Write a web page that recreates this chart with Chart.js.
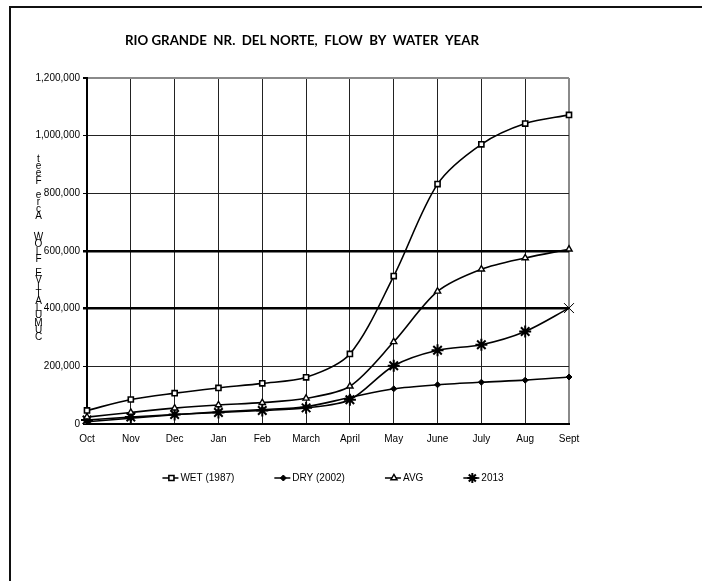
<!DOCTYPE html>
<html>
<head>
<meta charset="utf-8">
<script src="https://cdn.jsdelivr.net/npm/chart.js@4/dist/chart.umd.min.js"></script>
<style>
  html, body { margin: 0; padding: 0; background: #fff; }
  #wrap { position: relative; width: 702px; height: 581px; }
</style>
</head>
<body>
<div id="wrap"><canvas id="flow"></canvas></div>
<script>
// Cumulative flow (acre-feet) through the water year, Rio Grande near Del Norte
const months = ['Oct', 'Nov', 'Dec', 'Jan', 'Feb', 'March', 'April', 'May', 'June', 'July', 'Aug', 'Sept'];
const wet1987 = [47000, 85000, 107000, 125000, 141000, 162000, 243000, 513000, 832000, 970000, 1042000, 1072000];
const dry2002 = [8000, 20000, 32000, 42000, 50000, 60000, 92000, 122000, 136000, 145000, 152000, 163000];
const avgYear = [24000, 40000, 55000, 66000, 74000, 89000, 131000, 285000, 460000, 537000, 576000, 606000];
const year2013 = [14000, 24000, 33000, 40000, 47000, 56000, 84000, 202000, 256000, 275000, 321000, 402000];
const seriesNames = ['WET (1987)', 'DRY (2002)', 'AVG', '2013'];
const yMin = 0, yMax = 1200000, yStep = 200000;
const heavyLines = [400000, 600000];

const titleText = 'RIO GRANDE  NR.  DEL NORTE,  FLOW  BY  WATER  YEAR';
const yAxisText = 'CUMULATIVE FLOW, Acre Feet';

const baseFont = '"Liberation Sans", Arial, sans-serif';

// marker look for each series (legend uses the same values)
const markers = [
  { style: 'rect', radius: 3.6, fill: '#fff', width: 1.6 },
  { style: 'rectRot', radius: 3, fill: '#000', width: 1 },
  { style: 'triangle', radius: 3.6, fill: '#fff', width: 1.4 },
  { style: 'star', radius: 6, fill: '#000', width: 2 }
];

// page frame, title, stacked axis caption and the line-style legend
const decorations = {
  id: 'decorations',
  beforeDraw(chart) {
    const ctx = chart.ctx;
    ctx.save();
    ctx.fillStyle = '#fff';
    ctx.fillRect(0, 0, chart.width, chart.height);
    ctx.fillStyle = '#111';
    ctx.fillRect(9, 6, chart.width, 2);
    ctx.fillRect(9, 6, 2, chart.height);
    ctx.restore();
  },
  afterDraw(chart) {
    const ctx = chart.ctx;
    ctx.save();
    // title
    ctx.fillStyle = '#000';
    ctx.font = 'bold 13.3px Lato, "Liberation Sans", sans-serif';
    ctx.textAlign = 'center';
    ctx.textBaseline = 'middle';
    ctx.fillText(titleText, 302, 41);

    // axis caption: upright characters stacked bottom to top
    ctx.font = '10px ' + baseFont;
    ctx.textAlign = 'center';
    const chars = Array.from(yAxisText);
    const step = 7.1;
    chars.forEach((ch, i) => {
      ctx.fillText(ch, 38.5, 337 - i * step);
    });

    // legend
    ctx.font = '10px ' + baseFont;
    ctx.textAlign = 'left';
    const lineLen = 16, gap = 40, ly = 478;
    const sets = chart.data.datasets;
    const widths = sets.map(ds => lineLen + 2 + ctx.measureText(ds.label).width);
    const total = widths.reduce((a, b) => a + b, 0) + gap * (sets.length - 1);
    let x = 333 - total / 2;
    sets.forEach((ds, i) => {
      const m = markers[i];
      ctx.strokeStyle = '#000';
      ctx.lineWidth = 1.5;
      ctx.beginPath();
      ctx.moveTo(x, ly);
      ctx.lineTo(x + lineLen, ly);
      ctx.stroke();
      ctx.fillStyle = m.fill;
      ctx.strokeStyle = '#000';
      ctx.lineWidth = m.width;
      Chart.helpers.drawPoint(ctx, {
        pointStyle: m.style,
        radius: m.style === 'star' ? 5 : m.radius,
        borderWidth: m.width,
        rotation: 0
      }, x + lineLen / 2 + 1, ly);
      ctx.fillStyle = '#000';
      ctx.fillText(ds.label, x + lineLen + 2, ly + 0.5);
      x += widths[i] + gap;
    });
    ctx.restore();
  }
};

function series(i, data) {
  const m = markers[i];
  return {
    label: seriesNames[i],
    data,
    borderColor: '#000',
    borderWidth: 1.6,
    tension: 0.3,
    fill: false,
    pointStyle: m.style,
    pointRadius: m.radius,
    pointHoverRadius: m.radius,
    pointBackgroundColor: m.fill,
    pointBorderColor: '#000',
    pointBorderWidth: m.width
  };
}

const datasets = [
  series(0, wet1987),
  series(1, dry2002),
  series(2, avgYear),
  series(3, year2013)
];
// the final 2013 point is drawn as a plain thin cross
const lastIdx = year2013.length - 1;
datasets[3].pointStyle = c => (c.dataIndex === lastIdx ? 'crossRot' : 'star');
datasets[3].pointBorderWidth = c => (c.dataIndex === lastIdx ? 1 : 2);
datasets[3].pointRadius = c => (c.dataIndex === lastIdx ? 7 : 6);

new Chart(document.getElementById('flow'), {
  type: 'line',
  data: { labels: months, datasets },
  plugins: [decorations],
  options: {
    responsive: true,
    maintainAspectRatio: false,
    animation: false,
    events: [],
    layout: { padding: { left: 0, top: 78, right: 133, bottom: 127 } },
    plugins: {
      legend: { display: false },
      title: { display: false },
      tooltip: { enabled: false }
    },
    scales: {
      x: {
        offset: false,
        afterFit(scale) { scale.height = 30; },
        grid: {
          drawTicks: false,
          color: c => (c.index === months.length - 1 ? '#8a8a8a' : '#222'),
          lineWidth: c => (c.index === months.length - 1 ? 2 : 1)
        },
        border: { color: '#000', width: 2 },
        ticks: {
          padding: 9,
          color: '#000',
          font: { family: baseFont, size: 10 },
          maxRotation: 0,
          autoSkip: false
        }
      },
      y: {
        min: yMin,
        max: yMax,
        afterFit(scale) { scale.width = 87; },
        grid: {
          drawTicks: true,
          tickLength: 4,
          tickColor: '#000',
          color: c => {
            const v = c.tick.value;
            if (v === yMax) return '#8a8a8a';
            if (heavyLines.includes(v)) return '#000';
            return '#222';
          },
          lineWidth: c => {
            const v = c.tick.value;
            if (v === yMax) return 2;
            if (heavyLines.includes(v)) return 2.5;
            return 1;
          }
        },
        border: { color: '#000', width: 2 },
        ticks: {
          stepSize: yStep,
          padding: 3,
          color: '#000',
          font: { family: baseFont, size: 10 },
          callback: v => v.toLocaleString('en-US')
        }
      }
    }
  }
});
</script>
</body>
</html>
